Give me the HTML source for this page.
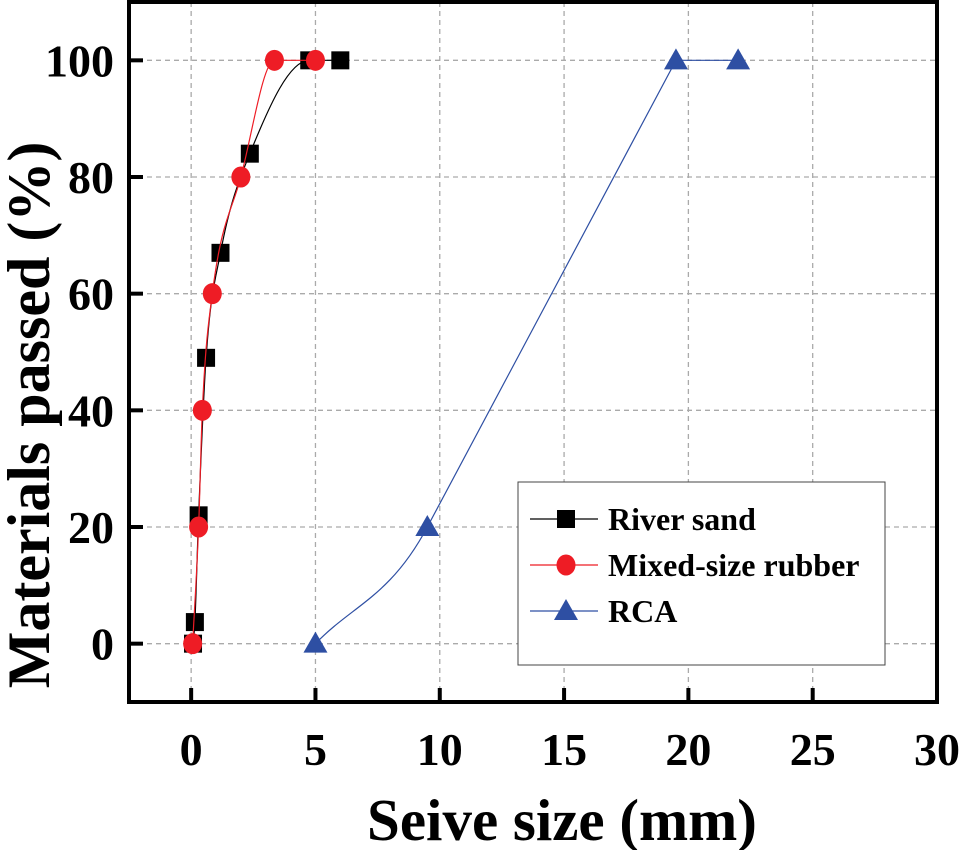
<!DOCTYPE html>
<html><head><meta charset="utf-8"><style>
body{margin:0;background:#fff}
svg{display:block;font-family:"Liberation Serif",serif;font-weight:bold}
</style></head><body>
<svg id="chart" width="960" height="850" viewBox="0 0 960 850">
<g id="grid"></g>
<g id="axes"></g>
<g id="series"></g>
<text x="562" y="840" font-size="59" text-anchor="middle">Seive size (mm)</text>
<text transform="translate(49,415) rotate(-90)" font-size="60" text-anchor="middle">Materials passed (%)</text>
<g>
<rect x="518" y="482" width="367" height="183" fill="#fff" stroke="#444" stroke-width="1"/>
<g id="legend-items"></g>
</g>
</svg>
<script>
const xTicks=[0,5,10,15,20,25,30];
const yTicks=[0,20,40,60,80,100];
const sandX=[0.075,0.15,0.3,0.6,1.18,2.36,4.75,6];
const sandY=[0,3.7,22,49,67,84,100,100];
const rubberX=[0.06,0.3,0.45,0.85,2,3.35,5];
const rubberY=[0,20,40,60,80,100,100];
const rcaX=[5,9.5,19.5,22];
const rcaY=[0,20,100,100];
const names=["River sand","Mixed-size rubber","RCA"];

const L=129,R=937,T=2,B=702,xMin=-2.5,xMax=30,yMin=-10,yMax=110;
const sx=v=>L+(v-xMin)/(xMax-xMin)*(R-L);
const sy=v=>B-(v-yMin)/(yMax-yMin)*(B-T);
const NS="http://www.w3.org/2000/svg";
function mk(p,t,a){const e=document.createElementNS(NS,t);for(const k in a)e.setAttribute(k,a[k]);p.appendChild(e);return e;}
const grid=document.getElementById('grid'),axes=document.getElementById('axes'),ser=document.getElementById('series');
xTicks.forEach(v=>{const x=sx(v);
 if(x>L+2&&x<R-2){const g=mk(grid,'line',{x1:x,x2:x,y1:T,y2:B,stroke:'#aaa','stroke-dasharray':'5,4','stroke-width':1.3});
 }
 const t=mk(axes,'line',{x1:x,x2:x,y1:B-14,y2:B,stroke:'#000','stroke-width':4});
 
 const lb=mk(axes,'text',{x:x,y:765,'font-size':46,'text-anchor':'middle'});lb.textContent=v;
 });
yTicks.forEach(v=>{const y=sy(v);
 const g=mk(grid,'line',{x1:L,x2:R,y1:y,y2:y,stroke:'#aaa','stroke-dasharray':'5,4','stroke-width':1.3});
 
 const t=mk(axes,'line',{x1:L,x2:L+14,y1:y,y2:y,stroke:'#000','stroke-width':4});
 
 const lb=mk(axes,'text',{x:114,y:y+16,'font-size':46,'text-anchor':'end'});lb.textContent=v;
 });
const fr=mk(axes,'rect',{x:L,y:T,width:R-L,height:B-T,fill:'none',stroke:'#000','stroke-width':4});


function monotone(xs,ys){const p=xs.map((x,i)=>[sx(x),sy(ys[i])]);const n=p.length;
 const d=[],m=[];for(let i=0;i<n-1;i++)d.push((p[i+1][1]-p[i][1])/(p[i+1][0]-p[i][0]));
 for(let i=0;i<n;i++){if(i===0)m.push(d[0]);else if(i===n-1)m.push(d[n-2]);else m.push(d[i-1]*d[i]<=0?0:(d[i-1]+d[i])/2);}
 for(let i=0;i<n-1;i++){if(d[i]===0){m[i]=0;m[i+1]=0;continue;}const a=m[i]/d[i],b=m[i+1]/d[i],s=a*a+b*b;
  if(s>9){const t=3/Math.sqrt(s);m[i]=t*a*d[i];m[i+1]=t*b*d[i];}}
 let s=`M${p[0][0]},${p[0][1]}`;
 for(let i=0;i<n-1;i++){const h=(p[i+1][0]-p[i][0])/3;
  s+=` C${p[i][0]+h},${p[i][1]+m[i]*h} ${p[i+1][0]-h},${p[i+1][1]-m[i+1]*h} ${p[i+1][0]},${p[i+1][1]}`;}return s;}
// steep-tangent spline: interior tangent = steeper neighbour slope; flat segments straight
function steep(xs,ys){const p=xs.map((x,i)=>[sx(x),sy(ys[i])]);const n=p.length;
 const d=[];for(let i=0;i<n-1;i++)d.push((p[i+1][1]-p[i][1])/(p[i+1][0]-p[i][0]));
 const m=p.map((_,i)=>i===0?d[0]:i===n-1?d[n-2]:(Math.abs(d[i-1])>Math.abs(d[i])?d[i-1]:d[i]));
 let s=`M${p[0][0]},${p[0][1]}`;
 for(let i=0;i<n-1;i++){if(d[i]===0){s+=` L${p[i+1][0]},${p[i+1][1]}`;continue;}
  const h=(p[i+1][0]-p[i][0])/3;
  s+=` C${p[i][0]+h},${p[i][1]+m[i]*h} ${p[i+1][0]-h},${p[i+1][1]-m[i+1]*h} ${p[i+1][0]},${p[i+1][1]}`;}return s;}
function marker(g,type,x,y,c){
 if(type==='sq')return mk(g,'rect',{x:x-9,y:y-9,width:18,height:18,fill:c});
 if(type==='ci')return mk(g,'ellipse',{cx:x,cy:y,rx:9.5,ry:10.5,fill:c});
 return mk(g,'polygon',{points:`${x},${y-12} ${x-12},${y+9} ${x+12},${y+9}`,fill:c});}
const defs=[[sandX,sandY,'#000','sq','river-sand',monotone],[rubberX,rubberY,'#ee1c25','ci','mixed-size-rubber',monotone],[rcaX,rcaY,'#2e4fa3','tr','rca',steep]];
defs.forEach(([xs,ys,c,m,n,f])=>{
 const l=mk(ser,'path',{d:f(xs,ys),fill:'none',stroke:c,'stroke-width':1.2});
 
 xs.forEach((x,i)=>{const e=marker(ser,m,sx(x),sy(ys[i]),c);
  });});
const li=document.getElementById('legend-items');
defs.forEach(([xs,ys,c,m,n],i)=>{const y=519+i*46;
 const l=mk(li,'line',{x1:530,x2:598,y1:y,y2:y,stroke:c,'stroke-width':1.2});
 
 const e=marker(li,m,566,y,c);
 const t=mk(li,'text',{x:608,y:y+11,'font-size':32});t.textContent=names[i];
 });
</script>
</body></html>
